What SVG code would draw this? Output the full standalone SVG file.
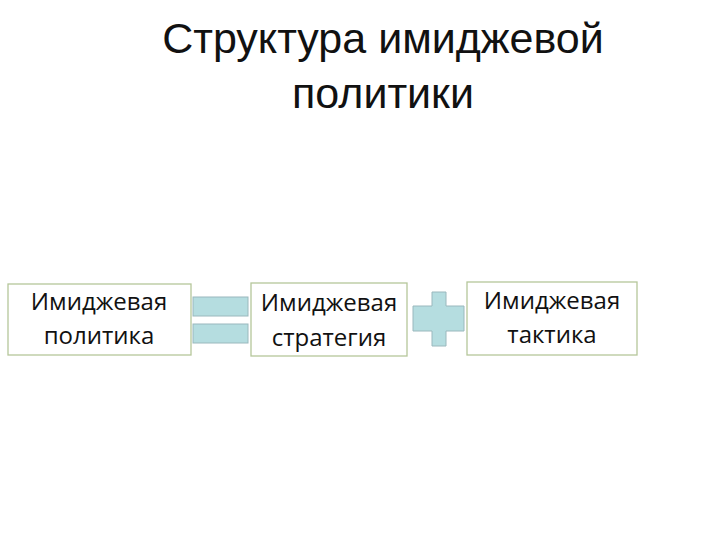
<svg xmlns="http://www.w3.org/2000/svg" width="720" height="540" viewBox="0 0 720 540">
<style>
.box{fill:#fff;stroke:#b5c79a;stroke-width:1.3}
.t{font-family:"Open Sans","DejaVu Sans",sans-serif;font-size:24px;fill:#111;text-anchor:middle}
.ttl{font-family:"Liberation Sans",Arial,sans-serif;font-size:43px;fill:#111;text-anchor:middle}
.op{fill:#b5dde0;stroke:#9ab8bd;stroke-width:1}
</style>
<rect width="720" height="540" fill="#fff"/>
<text class="ttl" x="383" y="53">Структура имиджевой</text>
<text class="ttl" x="383" y="108">политики</text>
<g id="connectors">
<rect class="op" x="193" y="297" width="55" height="19"/>
<rect class="op" x="193" y="324" width="55" height="19"/>
<path class="op" d="M432,292H446V306H464V331H446V346H432V331H413V306H432Z"/>
</g>
<g id="n1"><rect class="box" x="8" y="284" width="183" height="71"/>
<text class="t" x="99" y="310">Имиджевая</text><text class="t" x="99" y="344">политика</text></g>
<g id="n2"><rect class="box" x="251" y="283" width="156" height="73"/>
<text class="t" x="329" y="311">Имиджевая</text><text class="t" x="329" y="346">стратегия</text></g>
<g id="n3"><rect class="box" x="467" y="282" width="170" height="73"/>
<text class="t" x="552" y="309">Имиджевая</text><text class="t" x="552" y="343">тактика</text></g>
</svg>
